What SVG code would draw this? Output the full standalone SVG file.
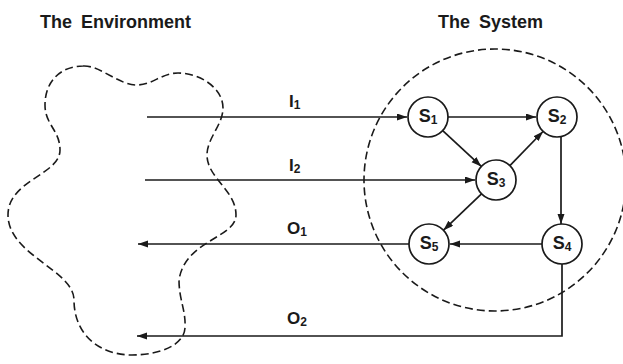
<svg xmlns="http://www.w3.org/2000/svg" width="623" height="364" viewBox="0 0 623 364">
<style>
.title{font-family:"Liberation Sans",Arial,sans-serif;font-weight:bold;font-size:18px;fill:#1a1a1a;word-spacing:4px}
.lbl{font-family:"Liberation Sans",Arial,sans-serif;font-weight:bold;font-size:17px;fill:#1a1a1a}
.nl{font-family:"Liberation Sans",Arial,sans-serif;font-weight:bold;font-size:18px;fill:#1a1a1a;text-anchor:middle}
.sub{font-size:12px}
.node{fill:#fff;stroke:#1a1a1a;stroke-width:1.7}
.dash{fill:none;stroke:#1a1a1a;stroke-width:1.6;stroke-dasharray:8 4}
.edge{fill:none;stroke:#1a1a1a;stroke-width:1.7;marker-end:url(#ah)}
</style>
<defs>
<marker id="ah" markerUnits="userSpaceOnUse" markerWidth="11" markerHeight="8" refX="10" refY="3.5" orient="auto">
<path d="M0,0 L10,3.5 L0,7 z" fill="#1a1a1a"/>
</marker>
</defs>
<rect width="623" height="364" fill="#fff"/>
<text class="title" x="40" y="28">The Environment</text>
<text class="title" x="438" y="28">The System</text>
<g id="environment">
<path class="dash" d="M83,66 C100,65 118,85 137,85 C152,85 162,73 178,73 C200,73 223,88 223,108 C223,125 207,138 207,155 C207,178 236,190 236,215 C236,238 185,240 179,280 C179,300 186,310 185,328 C184,345 160,355 132,355 C100,355 74,335 74,300 C74,270 8,255 8,215 C8,180 60,175 60,150 C60,130 45,125 45,105 C45,80 62,66 83,66 Z"/>
</g>
<g id="system">
<circle class="dash" cx="495" cy="180" r="131"/>
</g>
<g id="connectors">
<path class="edge" d="M147,117 H407"/>
<path class="edge" d="M448,117 H536"/>
<path class="edge" d="M442.7,130.6 L481.3,166.4"/>
<path class="edge" d="M509.9,165.6 L543,131.5"/>
<path class="edge" d="M561,137 V224"/>
<path class="edge" d="M145,180 H475"/>
<path class="edge" d="M542,244 H450"/>
<path class="edge" d="M481.5,193.8 L443.5,230.2"/>
<path class="edge" d="M409,244 H138"/>
<path class="edge" d="M562,264 V336 H137"/>
</g>
<g id="edge-labels">
<text class="lbl" x="289" y="107">I<tspan class="sub" dy="2">1</tspan></text>
<text class="lbl" x="289" y="171">I<tspan class="sub" dy="2">2</tspan></text>
<text class="lbl" x="287" y="234">O<tspan class="sub" dy="2">1</tspan></text>
<text class="lbl" x="287" y="324">O<tspan class="sub" dy="2">2</tspan></text>
</g>
<g id="S1"><circle class="node" cx="428" cy="117" r="20"/><text class="nl" x="428" y="122">S<tspan class="sub" dy="2">1</tspan></text></g>
<g id="S2"><circle class="node" cx="557" cy="117" r="20"/><text class="nl" x="557" y="122">S<tspan class="sub" dy="2">2</tspan></text></g>
<g id="S3"><circle class="node" cx="496" cy="180" r="20"/><text class="nl" x="496" y="185">S<tspan class="sub" dy="2">3</tspan></text></g>
<g id="S4"><circle class="node" cx="562" cy="244" r="20"/><text class="nl" x="562" y="249">S<tspan class="sub" dy="2">4</tspan></text></g>
<g id="S5"><circle class="node" cx="429" cy="244" r="20"/><text class="nl" x="429" y="249">S<tspan class="sub" dy="2">5</tspan></text></g>
</svg>
